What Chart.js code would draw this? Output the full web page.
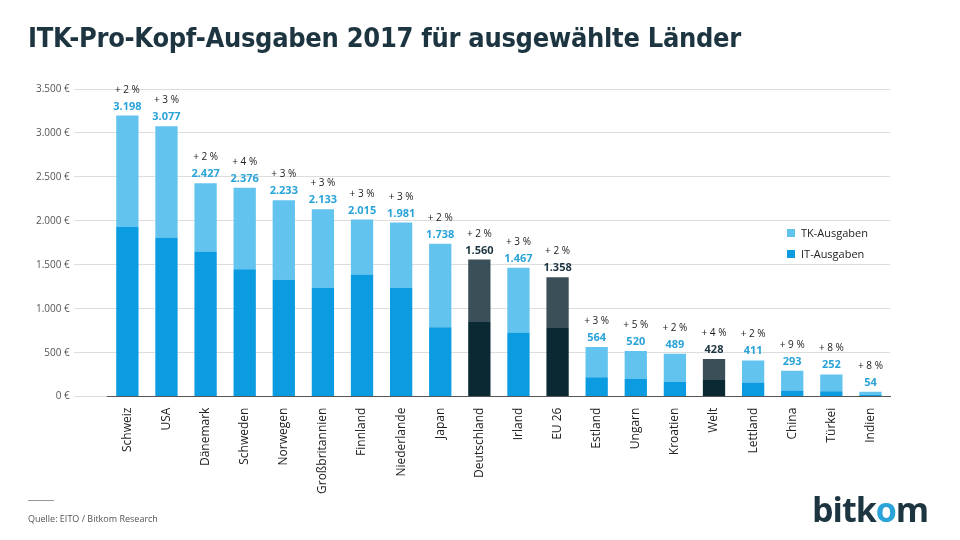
<!DOCTYPE html><html><head><meta charset="utf-8">
<script src="https://cdn.jsdelivr.net/npm/chart.js@4"></script>
<style>body{margin:0;width:960px;height:540px;background:#fff;font-family:"Open Sans",sans-serif;position:relative;overflow:hidden}
#t{position:absolute;left:28px;top:22px;font:bold 27px "DejaVu Sans Condensed","DejaVu Sans";color:#1d3540;letter-spacing:-0.3px}
#src{position:absolute;left:28px;top:512px;font-size:9px;color:#555}
#ln{position:absolute;left:28px;top:500px;width:26px;border-top:1px solid #999}
#logo{position:absolute;left:812px;top:486px;font:bold 34px "Open Sans";color:#1d3540;letter-spacing:-1px}
#logo span{color:#29a3d8}
.lg{position:absolute;left:787px;font-size:11px;color:#222}
.lg i{display:inline-block;width:8px;height:8px;margin-right:6px}
#c{position:absolute;left:0;top:0}</style></head><body>
<canvas id="c" width="960" height="540"></canvas>
<div id="t">ITK-Pro-Kopf-Ausgaben 2017 für ausgewählte Länder</div>
<div id="ln"></div><div id="src">Quelle: EITO / Bitkom Research</div>
<div id="logo">bitk<span>o</span>m</div>
<div class="lg" style="top:225px"><i style="background:#62c3ef"></i>TK-Ausgaben</div>
<div class="lg" style="top:246px"><i style="background:#0a9be0"></i>IT-Ausgaben</div>
<script>
const categories=["Schweiz","USA","Dänemark","Schweden","Norwegen","Großbritannien","Finnland","Niederlande","Japan","Deutschland","Irland","EU 26","Estland","Ungarn","Kroatien","Welt","Lettland","China","Türkei","Indien"];
const totals=[3198,3077,2427,2376,2233,2133,2015,1981,1738,1560,1467,1358,564,520,489,428,411,293,252,54];
const itValues=[1930,1810,1650,1450,1330,1240,1390,1240,790,850,730,780,220,200,170,190,160,70,60,20];
const growth=["+ 2 %","+ 3 %","+ 2 %","+ 4 %","+ 3 %","+ 3 %","+ 3 %","+ 3 %","+ 2 %","+ 2 %","+ 3 %","+ 2 %","+ 3 %","+ 5 %","+ 2 %","+ 4 %","+ 2 %","+ 9 %","+ 8 %","+ 8 %"];
const highlighted=["Deutschland","EU 26","Welt"];
const tkValues=totals.map((t,i)=>t-itValues[i]);
const hl=i=>highlighted.includes(categories[i]);
const fmt=v=>v.toLocaleString('de-DE');
const labelPlugin={id:'lbl',afterDatasetsDraw(ch){const c=ch.ctx,m=ch.getDatasetMeta(1);c.save();c.textAlign='center';
m.data.forEach((b,i)=>{c.fillStyle=hl(i)?'#1d3540':'#29a3d8';c.font='bold 11px "Open Sans"';c.fillText(fmt(totals[i]),b.x,b.y-6);
c.fillStyle='#222';c.font='10px "Open Sans"';c.fillText(growth[i],b.x,b.y-23);});c.restore();}};
new Chart(document.getElementById('c'),{type:'bar',data:{labels:categories,datasets:[
{label:'IT-Ausgaben',data:itValues,backgroundColor:categories.map((_,i)=>hl(i)?'#0b2933':'#0a9be0'),barPercentage:0.57,categoryPercentage:1},
{label:'TK-Ausgaben',data:tkValues,backgroundColor:categories.map((_,i)=>hl(i)?'#3b4f58':'#62c3ef'),barPercentage:0.57,categoryPercentage:1}]},
options:{responsive:false,animation:false,layout:{padding:{left:32,right:70,top:89,bottom:43}},
plugins:{legend:{display:false},tooltip:{enabled:false}},
scales:{x:{stacked:true,grid:{display:false},border:{color:'#555'},ticks:{maxRotation:90,minRotation:90,color:'#222',font:{size:12,family:'Open Sans'}}},
y:{stacked:true,min:0,max:3500,ticks:{stepSize:500,padding:4,color:'#555',font:{size:10,family:'Open Sans'},callback:v=>fmt(v)+' €'},grid:{color:'#ddd',tickLength:34},border:{display:false}}}},
plugins:[labelPlugin]});
</script></body></html>
